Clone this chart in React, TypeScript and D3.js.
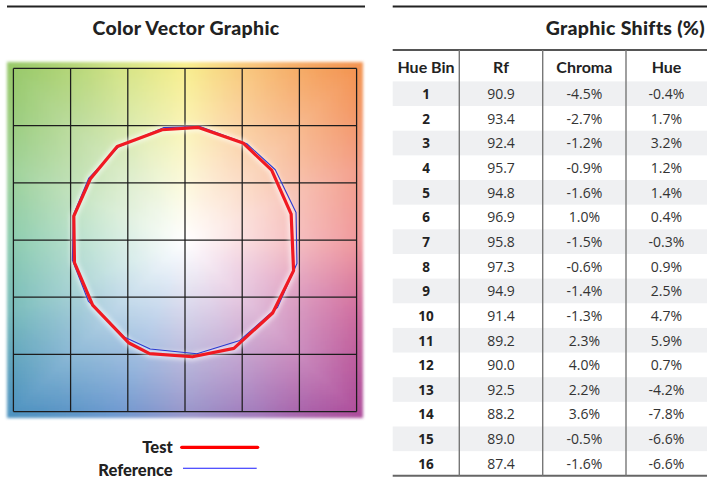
import React, { useMemo } from "react";
import * as d3 from "d3";

// ---- Data ----
const hueBins = [1, 2, 3, 4, 5, 6, 7, 8, 9, 10, 11, 12, 13, 14, 15, 16];
const rfValues = [90.9, 93.4, 92.4, 95.7, 94.8, 96.9, 95.8, 97.3, 94.9, 91.4, 89.2, 90.0, 92.5, 88.2, 89.0, 87.4];
const chromaShift = [-4.5, -2.7, -1.2, -0.9, -1.6, 1.0, -1.5, -0.6, -1.4, -1.3, 2.3, 4.0, 2.2, 3.6, -0.5, -1.6];
const hueShift = [-0.4, 1.7, 3.2, 1.2, 1.4, 0.4, -0.3, 0.9, 2.5, 4.7, 5.9, 0.7, -4.2, -7.8, -6.6, -6.6];
// reference average hue angle of each bin (degrees), read from the graphic
const refHueAngle = [13.9, 37.9, 57.3, 82.5, 100.9, 125.7, 147.2, 167.4, 190.1, 212.5, 237.9, 252.3, 276.0, 298.6, 324.0, 348.1];
const tableHeaders = ["Hue Bin", "Rf", "Chroma", "Hue"];
const gridTicks = [-1.5, -1.0, -0.5, 0, 0.5, 1.0, 1.5];
// background edge colours by hue angle (0..337.5 step 22.5)
const edgeColors = [
  "#f09a9e", "#f3a08c", "#f39452", "#f8c27a", "#f8ef90", "#d0e286", "#98c96a", "#a0d29a",
  "#8ecdb0", "#7abcbc", "#4f93c0", "#6e9ad0", "#9a98cc", "#a47cbc", "#ae4f9c", "#d06fa0",
];

const W = 707;
const H = 487;

const x = d3.scaleLinear().domain([-1.5, 1.5]).range([13.4, 356.6]);
const y = d3.scaleLinear().domain([-1.5, 1.5]).range([411.6, 68.4]);

function edgeColor(deg: number) {
  const n = edgeColors.length;
  const step = 360 / n;
  const a = ((deg % 360) + 360) % 360;
  const i = Math.floor(a / step);
  const t = (a - i * step) / step;
  return d3.interpolateRgb(edgeColors[i % n], edgeColors[(i + 1) % n])(t);
}

function Background() {
  const cells = useMemo(() => {
    const out: { px: number; py: number; c: string }[] = [];
    const lim = 1.552;
    const step = 0.032;
    for (let ux = -lim; ux < lim; ux += step) {
      for (let uy = -lim; uy < lim; uy += step) {
        const cx = ux + step / 2;
        const cy = uy + step / 2;
        const deg = (Math.atan2(cy, cx) * 180) / Math.PI;
        let s = Math.min(1, Math.max(Math.abs(cx), Math.abs(cy)) / 1.5);
        s = Math.pow(s, 1.05);
        const c = d3.interpolateRgb("#ffffff", edgeColor(deg))(s);
        out.push({ px: x(ux), py: y(uy + step), c });
      }
    }
    return out;
  }, []);
  const cw = x(0.032) - x(0) + 0.6;
  return (
    <g filter="url(#soft)">
      {cells.map((d, i) => (
        <rect key={i} x={d.px} y={d.py} width={cw} height={cw} fill={d.c} shapeRendering="crispEdges" />
      ))}
    </g>
  );
}

export default function App() {
  const rad = Math.PI / 180;
  const refPts: [number, number][] = refHueAngle.map((a) => [Math.cos(a * rad), Math.sin(a * rad)]);
  const testPts: [number, number][] = refHueAngle.map((a, i) => {
    const ux = Math.cos(a * rad);
    const uy = Math.sin(a * rad);
    const k = 1 + chromaShift[i] / 100;
    const h = hueShift[i] / 100;
    return [k * ux - h * uy, k * uy + h * ux];
  });
  const line = d3
    .line<[number, number]>()
    .x((d) => x(d[0]))
    .y((d) => y(d[1]))
    .curve(d3.curveLinearClosed);

  // table geometry
  const colEdges = [392.7, 459.3, 542.7, 626, 707];
  const headTop = 50;
  const rowTop = 81.4;
  const rowH = 24.65;
  const tableBottom = rowTop + rowH * hueBins.length;
  const colCenter = (i: number) => (colEdges[i] + colEdges[i + 1]) / 2;
  const bodyFont = "'Open Sans', 'DejaVu Sans', sans-serif";
  const headFont = "Lato, 'Open Sans', sans-serif";

  return (
    <svg width={W} height={H} style={{ position: "absolute", left: 0, top: 0, background: "#fff" }}>
      <defs>
        <filter id="soft" x="-5%" y="-5%" width="110%" height="110%">
          <feGaussianBlur stdDeviation="1.4" />
        </filter>
        <filter id="halo" x="-10%" y="-10%" width="120%" height="120%">
          <feGaussianBlur stdDeviation="2" />
        </filter>
      </defs>

      {/* Left panel */}
      <line x1={7} x2={365} y1={6.5} y2={6.5} stroke="#222" strokeWidth={2.2} />
      <text x={186} y={35} textAnchor="middle" fontFamily={headFont} fontWeight={900} fontSize={19.5} letterSpacing={0.3} fill="#222">
        Color Vector Graphic
      </text>

      <Background />

      {/* grid */}
      <g stroke="#1c1c1c" strokeWidth={1.25}>
        {gridTicks.map((t) => (
          <line key={"v" + t} x1={x(t)} x2={x(t)} y1={y(1.5)} y2={y(-1.5)} />
        ))}
        {gridTicks.map((t) => (
          <line key={"h" + t} x1={x(-1.5)} x2={x(1.5)} y1={y(t)} y2={y(t)} />
        ))}
      </g>

      {/* halo */}
      <path d={line(testPts) || ""} fill="none" stroke="#fff" strokeOpacity={0.55} strokeWidth={8} filter="url(#halo)" />
      {/* reference polygon */}
      <path d={line(refPts) || ""} fill="none" stroke="#2a3ad0" strokeWidth={1.1} strokeLinejoin="round" />
      {/* test polygon */}
      <path d={line(testPts) || ""} fill="none" stroke="#f01a22" strokeWidth={3.2} strokeLinejoin="round" />

      {/* legend */}
      <text x={172.7} y={453.3} textAnchor="end" fontFamily={headFont} fontWeight={900} fontSize={16.5} fill="#222">
        Test
      </text>
      <line x1={181.7} x2={257.7} y1={447.3} y2={447.3} stroke="#ff0000" strokeWidth={3.2} strokeLinecap="round" />
      <text x={172.7} y={475.5} textAnchor="end" fontFamily={headFont} fontWeight={900} fontSize={16.5} fill="#222">
        Reference
      </text>
      <line x1={183} x2={256.7} y1={468.3} y2={468.3} stroke="#1a1aff" strokeWidth={1.1} />

      {/* Right panel */}
      <line x1={392.7} x2={707} y1={6.5} y2={6.5} stroke="#222" strokeWidth={2.2} />
      <text x={705} y={35} textAnchor="end" fontFamily={headFont} fontWeight={900} fontSize={19.5} letterSpacing={0.3} fill="#222">
        Graphic Shifts (%)
      </text>

      {/* row bands */}
      {hueBins.map((b, i) =>
        i % 2 === 0 ? (
          <rect key={"band" + b} x={colEdges[0]} y={rowTop + i * rowH} width={colEdges[4] - colEdges[0]} height={rowH} fill="#eff0f2" />
        ) : null
      )}

      {/* header */}
      {tableHeaders.map((h, i) => (
        <text key={h} x={colCenter(i)} y={72.7} textAnchor="middle" fontFamily={headFont} fontWeight={700} fontSize={16} fill="#222">
          {h}
        </text>
      ))}

      {/* rows */}
      {hueBins.map((b, i) => {
        const yb = rowTop + i * rowH + rowH / 2 + 5.3;
        return (
          <g key={"row" + b}>
            <text x={colCenter(0)} y={yb} textAnchor="middle" fontFamily={bodyFont} fontWeight={700} fontSize={13.5} fill="#222">
              {b}
            </text>
            <text x={colCenter(1)} y={yb} textAnchor="middle" fontFamily={bodyFont} fontSize={14} fill="#333">
              {rfValues[i].toFixed(1)}
            </text>
            <text x={colCenter(2)} y={yb} textAnchor="middle" fontFamily={bodyFont} fontSize={14} fill="#333">
              {chromaShift[i].toFixed(1) + "%"}
            </text>
            <text x={colCenter(3)} y={yb} textAnchor="middle" fontFamily={bodyFont} fontSize={14} fill="#333">
              {hueShift[i].toFixed(1) + "%"}
            </text>
          </g>
        );
      })}

      {/* table rules */}
      <line x1={colEdges[0]} x2={707} y1={headTop} y2={headTop} stroke="#555" strokeWidth={2.2} />
      <line x1={colEdges[0]} x2={707} y1={tableBottom} y2={tableBottom} stroke="#666" strokeWidth={2} />
      {colEdges.slice(1, 4).map((cx) => (
        <line key={"c" + cx} x1={cx} x2={cx} y1={headTop} y2={tableBottom} stroke="#777" strokeWidth={1.4} />
      ))}
    </svg>
  );
}
